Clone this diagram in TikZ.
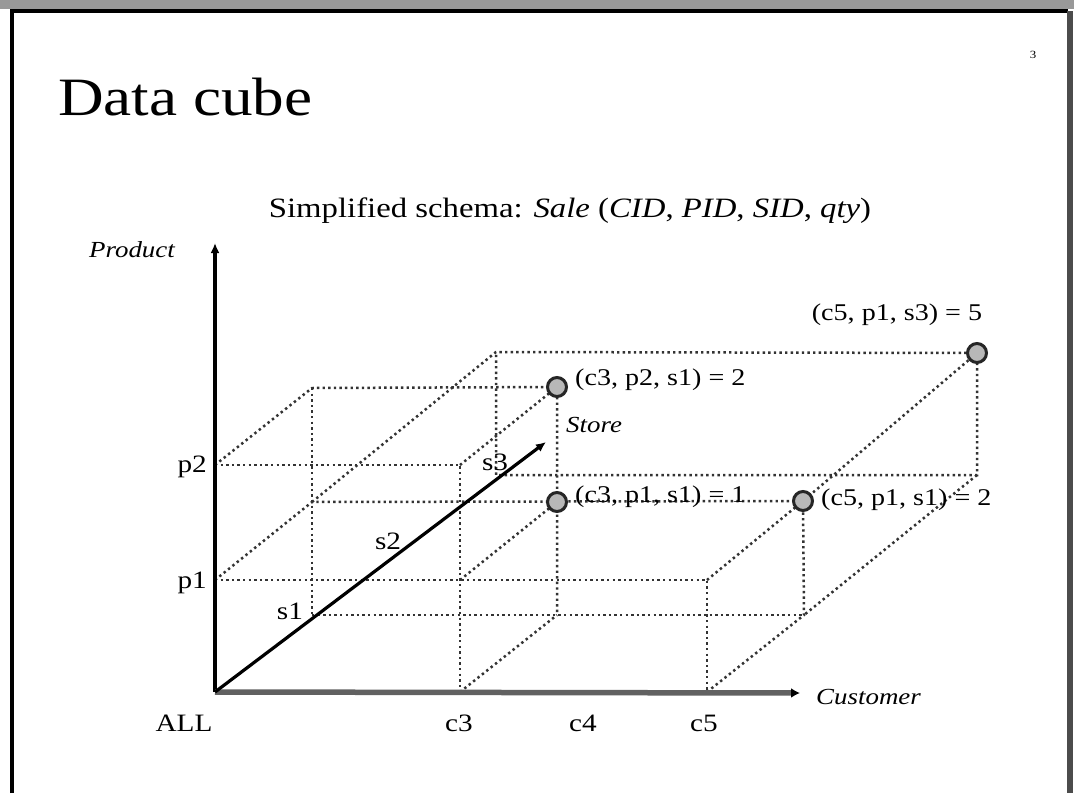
\documentclass[tikz,border=0pt]{standalone}
\usepackage{fontspec}
\setmainfont{Liberation Serif}[FakeStretch=1.17]
\usetikzlibrary{arrows.meta}

\begin{document}
\begin{tikzpicture}[x=1pt, y=-1pt,
  grid/.style={draw=black!80, line width=2.5pt, dash pattern=on 2.4pt off 3.2pt},
  axis/.style={-{Latex[length=10pt, width=9pt]}, line width=3.2pt},
  cell/.style={circle, draw=black!85, fill=black!28, line width=3pt, minimum size=19pt, inner sep=0pt},
  tick/.style={inner sep=1pt, font=\fontsize{25}{28}\selectfont},
  value/.style={anchor=west, inner sep=1pt, font=\fontsize{24}{26}\selectfont},
  axlabel/.style={inner sep=1pt, font=\fontsize{23}{26}\selectfont\itshape}
]
  \useasboundingbox (0,0) rectangle (1074,793);
  % slide frame
  \fill[black!40] (0,0) rectangle (1074,9);
  \draw[line width=4pt] (12,793) -- (12,11) -- (1068,11);
  \draw[line width=6pt, black!70] (1070,11) -- (1070,793);

  \node[anchor=base west, inner sep=0pt, font=\fontsize{54}{60}\selectfont] (title) at (58,115) {Data cube};
  \node[inner sep=0pt, font=\fontsize{11}{12}\selectfont] (slideno) at (1033,55) {3};
  \node[font=\fontsize{28}{32}\selectfont] (schema) at (570,211) {Simplified schema: \textit{Sale} (\textit{CID}, \textit{PID}, \textit{SID}, \textit{qty})};

  % corners of the cube
  \coordinate (o) at (215,692);
  \coordinate (ptip) at (215,243);
  \coordinate (ctip) at (800,693);
  \coordinate (stip) at (546,442);
  \coordinate (p1) at (215,580);
  \coordinate (p2) at (215,465);
  \coordinate (s1) at (312,615);
  \coordinate (s3) at (496,475);
  \coordinate (c3) at (460,692);
  \coordinate (c5) at (707,692);
  \coordinate (p1s1) at (312,502);
  \coordinate (p2s1) at (312,388);
  \coordinate (p1s3) at (496,352);
  \coordinate (c3p1) at (460,580);
  \coordinate (c3p2) at (460,465);
  \coordinate (c3s1) at (557,615);
  \coordinate (c5p1) at (707,580);
  \coordinate (c5s1) at (804,615);
  \coordinate (c5s3) at (977,475);
  \coordinate (c3p2s1) at (557,387);
  \coordinate (c3p1s1) at (557,502);
  \coordinate (c5p1s1) at (803,501);
  \coordinate (c5p1s3) at (977,353);

  % dotted grid
  \draw[grid] (p2) -- (p2s1) -- (c3p2s1);
  \draw[grid] (p2s1) -- (s1);
  \draw[grid] (p2) -- (c3p2) -- (c3);
  \draw[grid] (c3p2) -- (c3p2s1) -- (c3s1);
  \draw[grid] (p1) -- (p1s1) -- (c5p1s1);
  \draw[grid] (p1) -- (c5p1) -- (c5);
  \draw[grid] (c3p1) -- (c3p1s1);
  \draw[grid] (c3) -- (c3s1);
  \draw[grid] (s1) -- (c5s1);
  \draw[grid] (c5) -- (c5s1) -- (c5p1s1);
  \draw[grid] (c5p1) -- (c5p1s1);
  \draw[grid] (p1s1) -- (p1s3) -- (c5p1s3) -- (c5s3) -- (s3) -- (p1s3);
  \draw[grid] (c5p1s3) -- (c5p1s1);
  \draw[grid] (c5s3) -- (c5s1);

  % cells with values
  \node[cell] (cell1) at (c3p2s1) {};
  \node[cell] (cell2) at (c3p1s1) {};
  \node[cell] (cell3) at (c5p1s1) {};
  \node[cell] (cell4) at (c5p1s3) {};

  % axes
  \draw[axis] (o) -- (ptip);
  \draw[axis, line width=5.5pt, black!62, -{Latex[length=9pt, width=10pt, color=black]}] (o) -- (ctip);
  \draw[axis] (o) -- (stip);

  \node[axlabel] (prod) at (132,250) {Product};
  \node[axlabel, anchor=west] (cust) at (815,697) {Customer};
  \node[axlabel, anchor=west] (store) at (565,425) {Store};

  \node[tick, anchor=east] (lp2) at (208,467) {p2};
  \node[tick, anchor=east] (lp1) at (208,583) {p1};
  \node[tick] (ls1) at (290,611) {s1};
  \node[tick] (ls2) at (388,541) {s2};
  \node[tick] (ls3) at (495,462) {s3};
  \node[tick] (lall) at (184,723) {ALL};
  \node[tick] (lc3) at (459,723) {c3};
  \node[tick] (lc4) at (583,723) {c4};
  \node[tick] (lc5) at (704,723) {c5};

  \node[value] (v1) at (574,380) {(c3, p2, s1) = 2};
  \node[value] (v2) at (574,497) {(c3, p1, s1) = 1};
  \node[value] (v3) at (820,500) {(c5, p1, s1) = 2};
  \node[value, anchor=center] (v4) at (897,315) {(c5, p1, s3) = 5};
\end{tikzpicture}
\end{document}
